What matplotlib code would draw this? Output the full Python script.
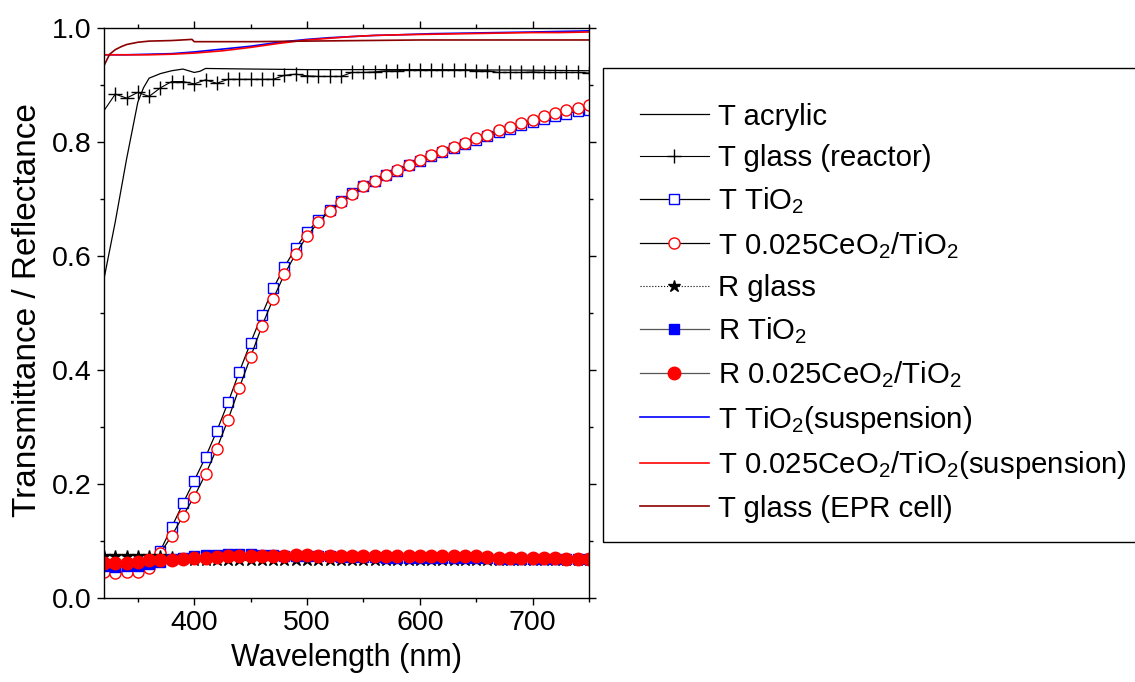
import matplotlib
matplotlib.use("Agg")
import matplotlib.pyplot as plt
from matplotlib.ticker import MultipleLocator
from matplotlib.patches import Rectangle

plt.rcParams['font.family'] = ['Liberation Sans', 'DejaVu Sans']
plt.rcParams['mathtext.fontset'] = 'custom'
plt.rcParams['mathtext.rm'] = 'Liberation Sans'
plt.rcParams['mathtext.it'] = 'Liberation Sans:italic'
plt.rcParams['mathtext.bf'] = 'Liberation Sans:bold'

# ---------------- data ----------------
wl_acrylic = [320, 330, 340, 350, 355, 360, 370, 380, 390, 400, 405, 410, 450, 500, 600, 700, 750]
t_acrylic = [0.56, 0.66, 0.77, 0.87, 0.895, 0.912, 0.920, 0.925, 0.928, 0.922, 0.924, 0.929,
             0.928, 0.927, 0.927, 0.926, 0.925]

wl_glass = [320, 330, 340, 350, 360, 370, 380, 390, 400, 410, 420, 430, 440, 450, 460, 470, 480,
            490, 500, 510, 520, 530, 540, 550, 560, 570, 580, 590, 600, 610, 620, 630, 640, 650,
            660, 670, 680, 690, 700, 710, 720, 730, 740, 750]
t_glass = [0.855, 0.884, 0.877, 0.887, 0.880, 0.895, 0.906, 0.906, 0.902, 0.909, 0.903, 0.910,
           0.910, 0.910, 0.910, 0.910, 0.917, 0.919, 0.916, 0.915, 0.915, 0.915, 0.922, 0.922,
           0.923, 0.925, 0.925, 0.927, 0.927, 0.927, 0.926, 0.926, 0.926, 0.925, 0.925, 0.922,
           0.922, 0.922, 0.923, 0.922, 0.922, 0.922, 0.922, 0.921]

wl = [320, 330, 340, 350, 360, 370, 380, 390, 400, 410, 420, 430, 440, 450, 460, 470, 480, 490,
      500, 510, 520, 530, 540, 550, 560, 570, 580, 590, 600, 610, 620, 630, 640, 650, 660, 670,
      680, 690, 700, 710, 720, 730, 740, 750]
t_tio2 = [0.058, 0.055, 0.055, 0.056, 0.062, 0.083, 0.124, 0.166, 0.206, 0.247, 0.293, 0.343,
          0.397, 0.448, 0.497, 0.543, 0.581, 0.614, 0.642, 0.663, 0.680, 0.696, 0.710, 0.722,
          0.732, 0.742, 0.750, 0.759, 0.767, 0.775, 0.783, 0.790, 0.797, 0.804, 0.810, 0.817,
          0.823, 0.829, 0.835, 0.840, 0.845, 0.850, 0.854, 0.857]
t_ceo2 = [0.046, 0.044, 0.045, 0.045, 0.053, 0.079, 0.109, 0.144, 0.178, 0.217, 0.262, 0.313,
          0.369, 0.423, 0.477, 0.525, 0.568, 0.604, 0.635, 0.659, 0.679, 0.695, 0.709, 0.722,
          0.732, 0.742, 0.751, 0.760, 0.769, 0.777, 0.785, 0.792, 0.799, 0.807, 0.813, 0.821,
          0.827, 0.833, 0.839, 0.845, 0.851, 0.856, 0.860, 0.865]
r_glass = [0.074, 0.074, 0.074, 0.074, 0.074, 0.074, 0.072, 0.069, 0.067, 0.066, 0.066, 0.066,
           0.066, 0.066, 0.066, 0.066, 0.066, 0.066, 0.066, 0.066, 0.066, 0.066, 0.066, 0.066,
           0.066, 0.066, 0.066, 0.066, 0.066, 0.066, 0.066, 0.066, 0.066, 0.066, 0.066, 0.066,
           0.066, 0.066, 0.066, 0.066, 0.066, 0.066, 0.066, 0.066]
r_tio2 = [0.056, 0.055, 0.056, 0.057, 0.060, 0.063, 0.068, 0.071, 0.073, 0.075, 0.076, 0.077,
          0.077, 0.077, 0.076, 0.075, 0.074, 0.074, 0.073, 0.073, 0.073, 0.072, 0.072, 0.072,
          0.072, 0.071, 0.071, 0.071, 0.071, 0.071, 0.070, 0.070, 0.070, 0.070, 0.070, 0.069,
          0.069, 0.069, 0.069, 0.069, 0.068, 0.068, 0.068, 0.068]
r_ceo2 = [0.061, 0.061, 0.061, 0.063, 0.066, 0.067, 0.066, 0.068, 0.070, 0.071, 0.072, 0.073,
          0.073, 0.074, 0.074, 0.074, 0.0745, 0.075, 0.075, 0.074, 0.074, 0.074, 0.074, 0.074,
          0.074, 0.074, 0.074, 0.074, 0.074, 0.074, 0.074, 0.073, 0.073, 0.073, 0.072, 0.071,
          0.071, 0.070, 0.070, 0.070, 0.070, 0.069, 0.069, 0.069]

wl_susp = [320, 340, 360, 380, 400, 425, 450, 475, 500, 520, 540, 560, 580, 610, 640, 670, 700, 725, 750]
t_susp_tio2 = [0.953, 0.953, 0.954, 0.955, 0.958, 0.963, 0.968, 0.975, 0.980, 0.983, 0.985,
               0.987, 0.988, 0.990, 0.991, 0.992, 0.993, 0.994, 0.995]
t_susp_ceo2 = [0.953, 0.953, 0.953, 0.954, 0.956, 0.960, 0.966, 0.973, 0.979, 0.982, 0.985,
               0.987, 0.988, 0.989, 0.990, 0.991, 0.992, 0.992, 0.993]

wl_epr = [320, 325, 330, 335, 340, 350, 360, 380, 398, 400, 450, 500, 600, 700, 750]
t_epr = [0.934, 0.954, 0.962, 0.967, 0.971, 0.975, 0.977, 0.978, 0.980, 0.976, 0.976, 0.977,
         0.979, 0.979, 0.979]

labels = ['T acrylic', 'T glass (reactor)', r'T TiO$\mathregular{_2}$',
          r'T 0.025CeO$\mathregular{_2}$/TiO$\mathregular{_2}$', 'R glass',
          r'R TiO$\mathregular{_2}$', r'R 0.025CeO$\mathregular{_2}$/TiO$\mathregular{_2}$',
          r'T TiO$\mathregular{_2}$(suspension)',
          r'T 0.025CeO$\mathregular{_2}$/TiO$\mathregular{_2}$(suspension)',
          'T glass (EPR cell)']

# ---------------- plot ----------------
fig = plt.figure(figsize=(11.35, 6.82), dpi=100)
ax = fig.add_axes([104/1135, 84/682, 485/1135, 570/682])

lw = 0.9
ax.plot(wl_acrylic, t_acrylic, color='black', lw=lw, label=labels[0])
ax.plot(wl_glass, t_glass, color='black', lw=0.8, marker='+', ms=9.5, mew=1.0,
        markevery=slice(1, None), label=labels[1])
ax.plot(wl, t_tio2, color='black', lw=lw, marker='s', ms=7, mfc='white', mec='blue',
        mew=1.0, label=labels[2])
ax.plot(wl, t_ceo2, color='black', lw=lw, marker='o', ms=8, mfc='white', mec='red',
        mew=1.0, label=labels[3])
ax.plot(wl, r_glass, color='black', lw=0.8, ls=':', marker='*', ms=9, mfc='black',
        mec='black', label=labels[4])
ax.plot(wl, r_tio2, color='#555555', lw=lw, marker='s', ms=7, mfc='blue', mec='blue',
        label=labels[5])
ax.plot(wl, r_ceo2, color='#555555', lw=lw, marker='o', ms=9, mfc='red', mec='red',
        label=labels[6])
ax.plot(wl_susp, t_susp_tio2, color='blue', lw=1.2, label=labels[7])
ax.plot(wl_susp, t_susp_ceo2, color='red', lw=1.2, label=labels[8])
ax.plot(wl_epr, t_epr, color='#8b0000', lw=1.2, label=labels[9])

ax.set_xlim(320, 750)
ax.set_ylim(0.0, 1.0)
ax.xaxis.set_major_locator(MultipleLocator(100))
ax.xaxis.set_minor_locator(MultipleLocator(50))
ax.yaxis.set_major_locator(MultipleLocator(0.2))
ax.yaxis.set_minor_locator(MultipleLocator(0.1))
ax.set_yticks([0.0, 0.2, 0.4, 0.6, 0.8, 1.0])
ax.set_yticklabels(['0.0', '0.2', '0.4', '0.6', '0.8', '1.0'])

ax.tick_params(which='both', direction='out', top=True, right=True, width=1.0,
               labelsize=20.5, pad=4)
ax.tick_params(which='major', length=5)
ax.tick_params(which='minor', length=3)
for s in ax.spines.values():
    s.set_linewidth(1.0)

ax.set_xlabel('Wavelength (nm)', fontsize=22, labelpad=5)
ax.set_ylabel('Transmittance / Reflectance', fontsize=24)
ax.yaxis.set_label_coords(-0.126, 0.505)

leg = ax.legend(loc='upper left', bbox_to_anchor=(603/1135, 1 - 66/682),
                bbox_transform=fig.transFigure, fontsize=21.2, frameon=False,
                numpoints=1, handlelength=2.35, handletextpad=0.3, borderpad=1.25,
                labelspacing=0.455, borderaxespad=0)

# legend frame (Origin-style box, asymmetric padding)
fig.patches.append(Rectangle((603/1135, 1 - 542/682), (1145 - 603)/1135, (542 - 68)/682,
                             transform=fig.transFigure, fill=False, lw=1.0,
                             edgecolor='black', zorder=0))

fig.savefig('out.png', dpi=100)
